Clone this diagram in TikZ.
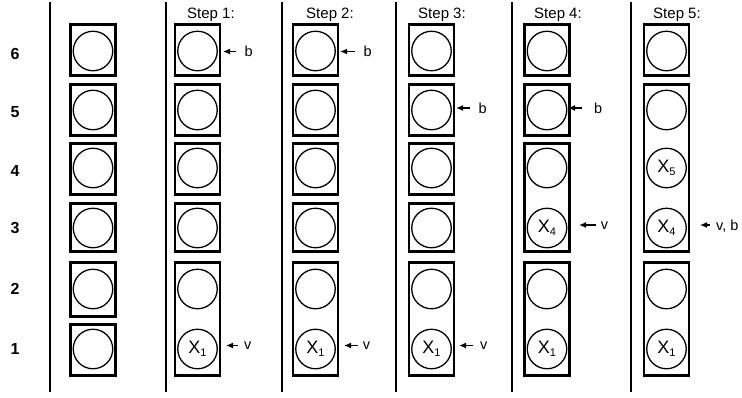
\documentclass[tikz,border=0pt]{standalone}
\usepackage{fontspec}
\setmainfont{Liberation Sans}
\usetikzlibrary{arrows.meta}
\begin{document}
\begin{tikzpicture}[x=1pt,y=-1pt,
  bx/.style={draw,line width=2.6pt,minimum width=45pt,inner sep=0pt},
  circ/.style={draw,circle,line width=1.3pt,minimum size=39.5pt,inner sep=0pt,font=\fontsize{18}{18}\selectfont},
  lab/.style={inner sep=0pt,anchor=west,font=\fontsize{14.5}{14.5}\selectfont},
  steplab/.style={inner sep=0pt,anchor=base,font=\fontsize{15}{15}\selectfont},
  rowlab/.style={inner sep=0pt,font=\bfseries\fontsize{16}{16}\selectfont},
  arr/.style={-{Latex[length=7pt,width=6pt]},line width=1.3pt},
  sep/.style={line width=2.3pt}]
\useasboundingbox (0,0) rectangle (742,397);
\newcommand{\xs}[1]{X\raisebox{-0.35ex}{\fontsize{11}{11}\selectfont #1}}
% separators
\foreach \x in {50,166,282,396,512,631} \draw[sep] (\x,2) -- (\x,392);
% row labels
\node[rowlab] (r6) at (15,54) {6};
\node[rowlab] (r5) at (15,112.5) {5};
\node[rowlab] (r4) at (15,171) {4};
\node[rowlab] (r3) at (15,227.5) {3};
\node[rowlab] (r2) at (15,289) {2};
\node[rowlab] (r1) at (15,349) {1};
% step labels
\node[steplab] (st1) at (211,18) {Step 1:};
\node[steplab] (st2) at (330,18) {Step 2:};
\node[steplab] (st3) at (442,18) {Step 3:};
\node[steplab] (st4) at (558,18) {Step 4:};
\node[steplab] (st5) at (677,18) {Step 5:};
% column 0 and single boxes for columns 1-3
\foreach \n/\cx in {0/93,1/197.5,2/315.5,3/431.5} {
  \node[bx,minimum height=51.4pt] (b\n-6) at (\cx,50) {};
  \node[bx,minimum height=51.4pt] (b\n-5) at (\cx,110) {};
  \node[bx,minimum height=51.4pt] (b\n-4) at (\cx,169) {};
  \node[bx,minimum height=48.4pt] (b\n-3) at (\cx,227.5) {};
}
\node[bx,minimum height=54.4pt] (b0-2) at (93,289.5) {};
\node[bx,minimum height=51.4pt] (b0-1) at (93,350) {};
\foreach \n/\cx in {1/197.5,2/315.5,3/431.5,4/547,5/666.5}
  \node[bx,minimum height=113.4pt] (b\n-12) at (\cx,319) {};
% column 4
\node[bx,minimum height=51.4pt] (b4-6) at (547,50) {};
\node[bx,minimum height=51.4pt] (b4-5) at (547,110) {};
\node[bx,minimum height=108.4pt] (b4-34) at (547,197.5) {};
% column 5
\node[bx,minimum height=51.4pt] (b5-6) at (666.5,50) {};
\node[bx,minimum height=167.4pt] (b5-345) at (666.5,168) {};
% circles
\foreach \n/\cx in {0/93,1/197.5,2/315.5,3/431.5,4/547,5/666.5} {
  \node[circ] (c\n-6) at (\cx,51) {};
  \node[circ] (c\n-2) at (\cx,289) {};
}
\foreach \n/\cx in {0/93,1/197.5,2/315.5,3/431.5,4/547,5/666.5}
  \node[circ] (c\n-5) at (\cx,110) {};
\foreach \n/\cx in {0/93,1/197.5,2/315.5,3/431.5,4/547}
  \node[circ] (c\n-4) at (\cx,168) {};
\foreach \n/\cx in {0/93,1/197.5,2/315.5,3/431.5}
  \node[circ] (c\n-3) at (\cx,228) {};
\node[circ] (c0-1) at (93,349) {};
\foreach \n/\cx in {1/197.5,2/315.5,3/431.5,4/547,5/666.5}
  \node[circ] (c\n-1) at (\cx,349) {\xs{1}};
\node[circ] (c4-3) at (547,228) {\xs{4}};
\node[circ] (c5-4) at (666.5,168) {\xs{5}};
\node[circ] (c5-3) at (666.5,228) {\xs{4}};
% pointer labels and arrows
\node[lab] (p1b) at (244.3,51.5) {b};
\coordinate (t1b) at (223,51.5);
\draw[arr,shorten <=8pt] (p1b.west) -- (t1b);
\node[lab] (p1v) at (244,346) {v};
\coordinate (t1v) at (226,345.5);
\draw[arr,shorten <=6pt] (p1v.west |- t1v) -- (t1v);
\node[lab] (p2b) at (363.3,51.5) {b};
\coordinate (t2b) at (340,51.5);
\draw[arr,shorten <=8pt] (p2b.west) -- (t2b);
\node[lab] (p2v) at (362.7,346) {v};
\coordinate (t2v) at (344,345.5);
\draw[arr,shorten <=5pt] (p2v.west |- t2v) -- (t2v);
\node[lab] (p3b) at (478.3,108) {b};
\coordinate (t3b) at (456,108);
\draw[arr,shorten <=8pt] (p3b.west) -- (t3b);
\node[lab] (p3v) at (480,346) {v};
\coordinate (t3v) at (459,345.5);
\draw[arr,shorten <=7pt] (p3v.west |- t3v) -- (t3v);
\node[lab] (p4b) at (594,108) {b};
\coordinate (t4b) at (568,108);
\draw[arr,shorten <=12pt] (p4b.west) -- (t4b);
\node[lab] (p4v) at (600.7,226) {v};
\coordinate (t4v) at (579,225);
\draw[arr,shorten <=5pt] (p4v.west |- t4v) -- (t4v);
\node[lab,anchor=base west] (p5vb) at (716,230.5) {v, b};
\coordinate (t5vb) at (700,225);
\draw[arr,shorten <=6pt] (p5vb.west |- t5vb) -- (t5vb);
\end{tikzpicture}
\end{document}
